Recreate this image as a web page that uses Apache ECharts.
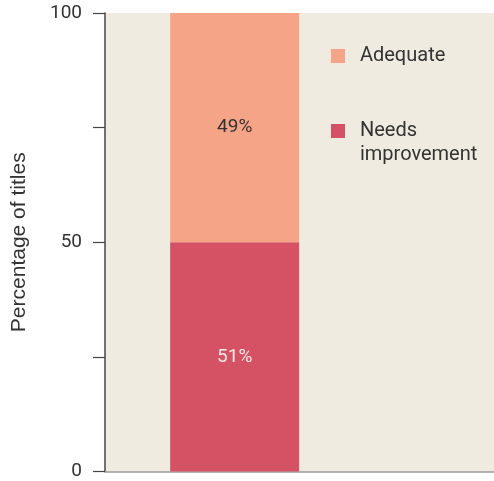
<!DOCTYPE html>
<html>
<head>
<meta charset="utf-8">
<script src="https://cdn.jsdelivr.net/npm/echarts@6/dist/echarts.min.js"></script>
<style>html,body{margin:0;padding:0;background:#fff}#c{width:494px;height:481px}</style>
</head>
<body>
<div id="c"></div>
<script>
const categories = ['All titles'];
const seriesNames = ['Needs improvement', 'Adequate'];
// bar heights as drawn in the picture (the split sits on the 50 tick)
const needsImprovement = [50];
const adequate = [50];
// labels as printed in the picture
const needsImprovementLabels = ['51%'];
const adequateLabels = ['49%'];
const yTicks = [0, 50, 100];

const chart = echarts.init(document.getElementById('c'), null, {renderer: 'canvas'});
const font = 'Roboto, "Noto Sans", sans-serif';
chart.setOption({
  animation: false,
  grid: {left: 105, right: 0, top: 13, bottom: 8, show: true, backgroundColor: '#f0ebe0', borderWidth: 0},
  xAxis: {
    type: 'category', data: categories, boundaryGap: false, min: -1, max: 2,
    axisLine: {show: true, lineStyle: {color: '#999', width: 1.5}},
    axisTick: {show: false}, axisLabel: {show: false}, splitLine: {show: false}
  },
  yAxis: {
    type: 'value', min: 0, max: 100, interval: 25,
    name: 'Percentage of titles', nameLocation: 'middle', nameGap: 75,
    nameTextStyle: {fontFamily: '"Liberation Sans", Arial, sans-serif', fontSize: 21, color: '#333'},
    axisLine: {show: true, lineStyle: {color: '#444', width: 1.5}},
    axisTick: {show: true, length: 12, lineStyle: {color: '#444', width: 1.2}},
    axisLabel: {
      margin: 23, fontFamily: font, fontSize: 19, color: '#333',
      formatter: v => yTicks.includes(v) ? String(v) : ''
    },
    splitLine: {show: false}
  },
  legend: [
    {
      data: [seriesNames[1]], orient: 'vertical', left: 331, top: 44, padding: 0,
      itemWidth: 14, itemHeight: 14, icon: 'rect',
      formatter: n => '  ' + n,
      textStyle: {fontFamily: font, fontSize: 20, lineHeight: 24, color: '#333'}
    },
    {
      data: [seriesNames[0]], orient: 'vertical', left: 331, top: 95, padding: 0,
      itemWidth: 14, itemHeight: 14, icon: 'rect',
      formatter: () => ' \n  Needs\n  improvement',
      textStyle: {fontFamily: font, fontSize: 20, lineHeight: 24, color: '#333'}
    }
  ],
  series: [
    {
      name: seriesNames[0], type: 'bar', stack: 's', barWidth: 129,
      data: needsImprovement,
      itemStyle: {color: '#d45263'},
      label: {show: true, position: 'inside', formatter: p => needsImprovementLabels[p.dataIndex], fontFamily: font, fontSize: 19, color: '#fbeaea'}
    },
    {
      name: seriesNames[1], type: 'bar', stack: 's', barWidth: 129,
      data: adequate,
      itemStyle: {color: '#f6a488'},
      label: {show: true, position: 'inside', formatter: p => adequateLabels[p.dataIndex], fontFamily: font, fontSize: 19, color: '#333'}
    }
  ]
});
</script>
</body>
</html>
